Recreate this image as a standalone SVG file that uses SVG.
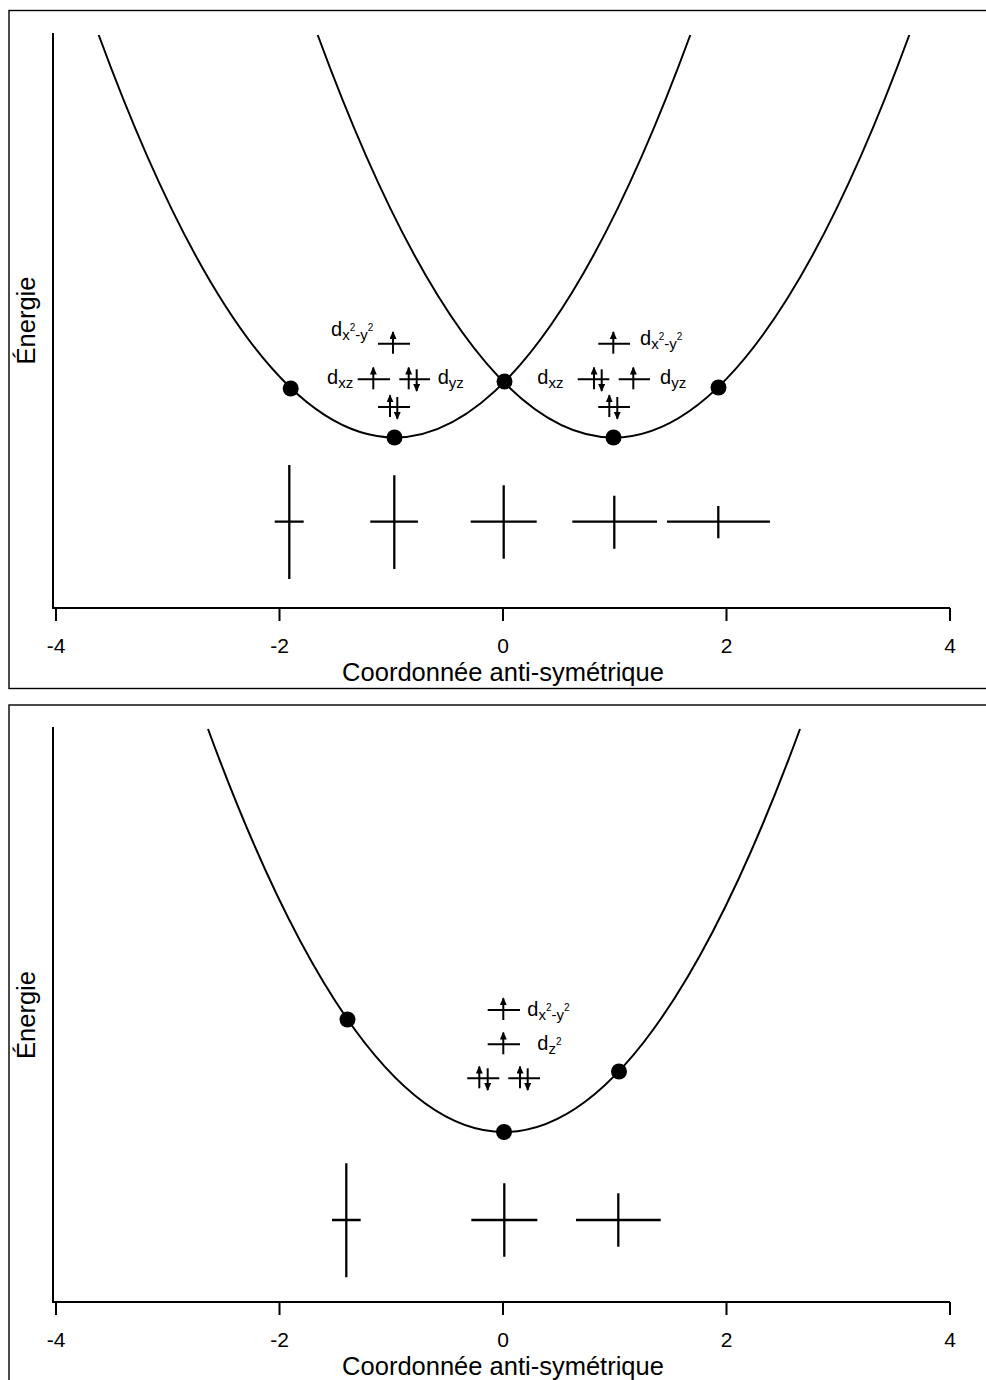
<svg xmlns="http://www.w3.org/2000/svg" width="986" height="1380" viewBox="0 0 986 1380">
<style>
.frame{fill:none;stroke:#000;stroke-width:1.4}
.ax{fill:none;stroke:#000;stroke-width:2}
.cv{fill:none;stroke:#000;stroke-width:2}
.cr{fill:none;stroke:#000;stroke-width:2.3}
.lv{fill:none;stroke:#000;stroke-width:2}
.ar{fill:none;stroke:#000;stroke-width:2;marker-end:url(#ah)}
.dot{fill:#000}
text{font-family:"Liberation Sans",Arial,sans-serif;fill:#000}
.tk{font-size:21px;text-anchor:middle}
.tt{font-size:25.5px;text-anchor:middle}
.lb{font-size:20px}
.sb{font-size:15px}
.sp{font-size:10px}
</style>
<defs>
<marker id="ah" markerUnits="userSpaceOnUse" markerWidth="8" markerHeight="7" refX="7" refY="3.5" orient="auto">
<path d="M0,0 L8,3.5 L0,7 Z" fill="#000"/>
</marker>
</defs>
<rect class="frame" x="9" y="10.5" width="990" height="678"/>
<rect class="frame" x="9" y="705" width="990" height="700"/>
<g id="panel-top">
<g id="axes-top">
<path class="ax" d="M53,33 V608 H950"/>
<path class="ax" d="M56,608 v13 M279.5,608 v13 M503,608 v13 M726.5,608 v13 M950,608 v13"/>
<text class="tk" x="56" y="653">-4</text>
<text class="tk" x="279.5" y="653">-2</text>
<text class="tk" x="503" y="653">0</text>
<text class="tk" x="726.5" y="653">2</text>
<text class="tk" x="950" y="653">4</text>
<text class="tt" x="503" y="681">Coordonnée anti-symétrique</text>
<text class="tt" transform="translate(35,320.5) rotate(-90)">Énergie</text>
</g>
<g id="curves-top">
<path class="cv" d="M98.7,35 Q394.5,840 690.3,35"/>
<path class="cv" d="M317.7,35 Q613.5,840 909.3,35"/>
<circle class="dot" cx="290.7" cy="388.5" r="8"/>
<circle class="dot" cx="394.5" cy="437.5" r="8"/>
<circle class="dot" cx="504.5" cy="381.5" r="8"/>
<circle class="dot" cx="613.5" cy="437.5" r="8"/>
<circle class="dot" cx="718.5" cy="387.5" r="8"/>
</g>
<g id="crosses-top">
<path class="cr" d="M289.3,465 V579 M274.7,521.7 H303.7"/>
<path class="cr" d="M394.3,475.3 V569 M370.3,521.7 H418"/>
<path class="cr" d="M503.7,485.3 V558.7 M470.7,521.7 H536.7"/>
<path class="cr" d="M614.3,495.7 V548.7 M572.3,521.7 H657"/>
<path class="cr" d="M718.3,506 V538.3 M667,521.7 H770"/>
</g>
<g id="levels-top-left">
<path class="lv" d="M378,343.7 H410 M357.7,379.3 H390 M399.3,379.3 H430 M378,407 H410"/>
<path class="ar" d="M393,353.7 V332"/>
<path class="ar" d="M373.3,389.3 V367.6"/>
<path class="ar" d="M408.7,389.3 V367.6"/>
<path class="ar" d="M416.7,369.3 V391"/>
<path class="ar" d="M390,417 V395.3"/>
<path class="ar" d="M397.3,397 V418.7"/>
<text class="lb" x="331" y="336">d<tspan class="sb" dy="4">x</tspan><tspan class="sp" dy="-9">2</tspan><tspan class="sb" dy="9">-y</tspan><tspan class="sp" dy="-9">2</tspan></text>
<text class="lb" x="327" y="384">d<tspan class="sb" dy="4">xz</tspan></text>
<text class="lb" x="437.7" y="384">d<tspan class="sb" dy="4">yz</tspan></text>
</g>
<g id="levels-top-right">
<path class="lv" d="M598.3,343.7 H630 M577.7,379.3 H609.3 M618.7,379.3 H650 M598.3,407 H630"/>
<path class="ar" d="M613.3,353.7 V332"/>
<path class="ar" d="M594,389.3 V367.6"/>
<path class="ar" d="M601.7,369.3 V391"/>
<path class="ar" d="M633.3,389.3 V367.6"/>
<path class="ar" d="M609.3,417 V395.3"/>
<path class="ar" d="M617.3,397 V418.7"/>
<text class="lb" x="640" y="345">d<tspan class="sb" dy="4">x</tspan><tspan class="sp" dy="-9">2</tspan><tspan class="sb" dy="9">-y</tspan><tspan class="sp" dy="-9">2</tspan></text>
<text class="lb" x="537.3" y="384">d<tspan class="sb" dy="4">xz</tspan></text>
<text class="lb" x="660" y="384">d<tspan class="sb" dy="4">yz</tspan></text>
</g>
</g>
<g id="panel-bottom">
<g id="axes-bottom">
<path class="ax" d="M53,727 V1302 H950"/>
<path class="ax" d="M56,1302 v13 M279.5,1302 v13 M503,1302 v13 M726.5,1302 v13 M950,1302 v13"/>
<text class="tk" x="56" y="1347">-4</text>
<text class="tk" x="279.5" y="1347">-2</text>
<text class="tk" x="503" y="1347">0</text>
<text class="tk" x="726.5" y="1347">2</text>
<text class="tk" x="950" y="1347">4</text>
<text class="tt" x="503" y="1375">Coordonnée anti-symétrique</text>
<text class="tt" transform="translate(35,1015) rotate(-90)">Énergie</text>
</g>
<g id="curve-bottom">
<path class="cv" d="M208,729 Q504,1535 800,729"/>
<circle class="dot" cx="347.5" cy="1019.5" r="8"/>
<circle class="dot" cx="504" cy="1132" r="8"/>
<circle class="dot" cx="619" cy="1071.5" r="8"/>
</g>
<g id="crosses-bottom">
<path class="cr" d="M346.3,1163.3 V1277.3 M332,1220 H360.7"/>
<path class="cr" d="M504.3,1183.3 V1256.7 M471.3,1220 H537.3"/>
<path class="cr" d="M618.3,1193.3 V1246.7 M576,1220 H660.7"/>
</g>
<g id="levels-bottom">
<path class="lv" d="M487.7,1010 H520 M487.7,1044.3 H520 M467.3,1078.3 H499.3 M508.3,1078.3 H540"/>
<path class="ar" d="M503.3,1020 V998.3"/>
<path class="ar" d="M503.3,1054.3 V1032.6"/>
<path class="ar" d="M479.3,1088.3 V1066.6"/>
<path class="ar" d="M487.7,1068.3 V1090"/>
<path class="ar" d="M520,1088.3 V1066.6"/>
<path class="ar" d="M527.7,1068.3 V1090"/>
<text class="lb" x="527.3" y="1016">d<tspan class="sb" dy="4">x</tspan><tspan class="sp" dy="-9">2</tspan><tspan class="sb" dy="9">-y</tspan><tspan class="sp" dy="-9">2</tspan></text>
<text class="lb" x="537.3" y="1050">d<tspan class="sb" dy="4">z</tspan><tspan class="sp" dy="-9">2</tspan></text>
</g>
</g>
</svg>
